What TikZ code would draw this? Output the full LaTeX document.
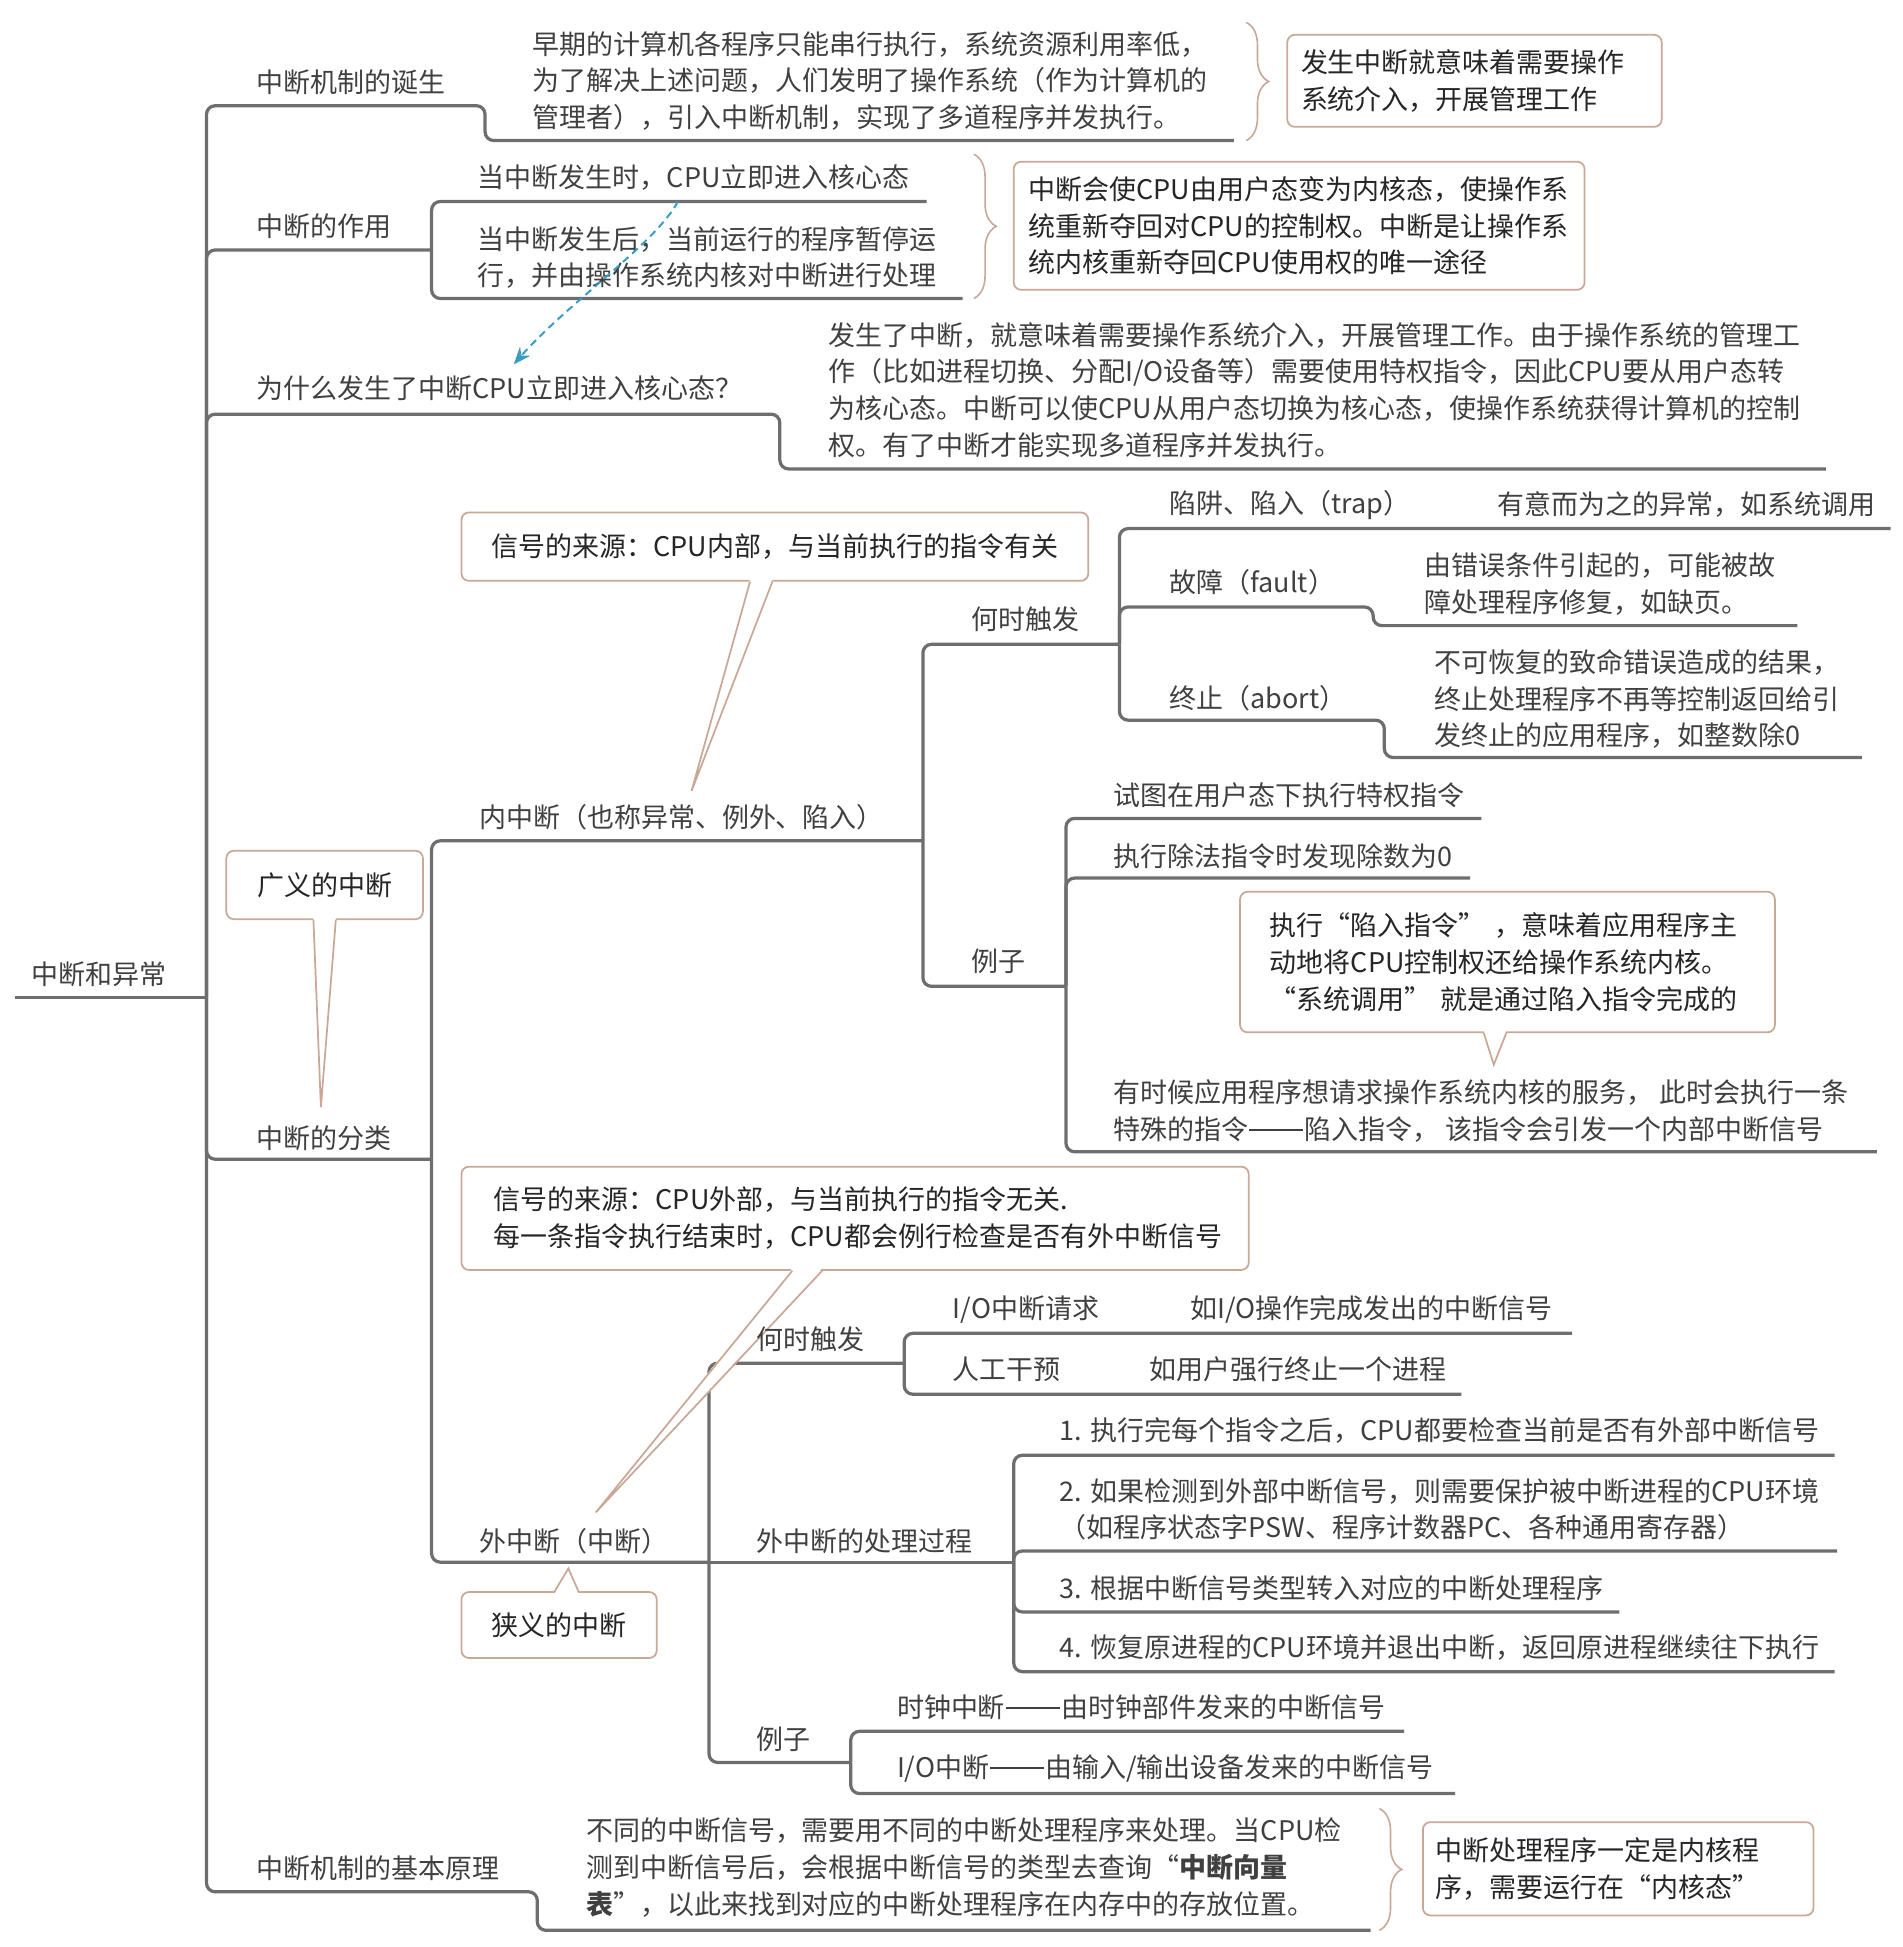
\documentclass[tikz,border=0pt]{standalone}
\usepackage{fontspec}
\setmainfont{Noto Sans CJK SC}
\usetikzlibrary{calc,decorations.pathreplacing,arrows.meta}
\definecolor{ln}{HTML}{6E6E6E}
\definecolor{txt}{HTML}{404040}
\definecolor{btxt}{HTML}{262626}
\definecolor{brn}{HTML}{C9A897}
\definecolor{arr}{HTML}{3A9CC2}
\newcommand\fs{\fontsize{21.7}{29.5}\selectfont}
\newcommand\dd{\hspace{0.04em}\rule[0.33em]{2em}{0.06em}\hspace{0.04em}}
\newcommand\callptr[5]{%
  \fill[white] ($(#1)+(#2,#5)$) -- (#4) -- ($(#1)+(#3,#5)$) -- cycle;
  \draw[cptr] ($(#1)+(#2,0)$) -- (#4) -- ($(#1)+(#3,0)$);}
\begin{document}
\begin{tikzpicture}[x=1pt,y=-1pt,
  t/.style={anchor=west,inner sep=0pt,text=txt,font=\fs,align=left},
  conn/.style={draw=ln,line width=2.6pt,rounded corners=7pt},
  cbox/.style={draw=brn,line width=1.4pt,fill=white,rounded corners=6pt,inner sep=0pt,font=\fs,text=btxt},
  cptr/.style={draw=brn,line width=1.4pt,line join=miter},
  brc/.style={draw=brn,line width=1.3pt,decorate,decoration={brace,amplitude=18pt}},
  darr/.style={draw=arr,line width=1.6pt,dash pattern=on 6pt off 4pt,-{Stealth[length=14pt,width=11pt]}}
]
\useasboundingbox (0,0) rectangle (1530,1565.4);
% ---------- junction coordinates ----------
\coordinate (r0) at (12,802);
\coordinate (r) at (166,802);
\coordinate (a1) at (390,85);  \coordinate (a1e) at (992,113);
\coordinate (a2) at (347,201);
\coordinate (a2x) at (745,162); \coordinate (a2y) at (774,240);
\coordinate (a3) at (627,333); \coordinate (a3e) at (1468,377);
\coordinate (a4) at (347,932);
\coordinate (b1) at (742,676);
\coordinate (b11) at (900,518);
\coordinate (b111) at (1520,425);
\coordinate (b112) at (1104,488); \coordinate (b112e) at (1445,503);
\coordinate (b113) at (1113,579); \coordinate (b113e) at (1497,609);
\coordinate (b12) at (857,793);
\coordinate (b121) at (1191,658);
\coordinate (b122) at (1182,706);
\coordinate (b123) at (1509,926);
\coordinate (b2) at (570,1256);
\coordinate (b21) at (727,1096);
\coordinate (b211) at (1264,1072);
\coordinate (b212) at (1175,1121);
\coordinate (b22) at (815,1256);
\coordinate (b221) at (1475,1170);
\coordinate (b222) at (1477,1247);
\coordinate (b223) at (1302,1296);
\coordinate (b224) at (1475,1344);
\coordinate (b23) at (684,1417);
\coordinate (b231) at (1129,1392);
\coordinate (b232) at (1170,1442);
\coordinate (a5) at (432,1521); \coordinate (a5e) at (1102,1552);
% ---------- connectors ----------
\draw[conn] (r0) -- (r);
\draw[conn] (r) |- (a1) |- (a1e);
\draw[conn] (r) |- (a2);
\draw[conn] (a2) |- (a2x);
\draw[conn] (a2) |- (a2y);
\draw[conn] (r) |- (a3) |- (a3e);
\draw[conn] (r) |- (a4);
\draw[conn] (a4) |- (b1);
\draw[conn] (b1) |- (b11);
\draw[conn] (b11) |- (b111);
\draw[conn] (b11) |- (b112) |- (b112e);
\draw[conn] (b11) |- (b113) |- (b113e);
\draw[conn] (b1) |- (b12);
\draw[conn] (b12) |- (b121);
\draw[conn] (b12) |- (b122);
\draw[conn] (b12) |- (b123);
\draw[conn] (a4) |- (b2);
\draw[conn] (b2) |- (b21);
\draw[conn] (b21) |- (b211);
\draw[conn] (b21) |- (b212);
\draw[conn] (b2) -- (b22);
\draw[conn] (b22) |- (b221);
\draw[conn] (b22) |- (b222);
\draw[conn] (b22) |- (b223);
\draw[conn] (b22) |- (b224);
\draw[conn] (b2) |- (b23);
\draw[conn] (b23) |- (b231);
\draw[conn] (b23) |- (b232);
\draw[conn] (r) |- (a5) |- (a5e);
% ---------- callouts ----------
\node[cbox,minimum width=504pt,minimum height=55pt] (c1) at (623,439.5) {信号的来源：CPU内部，与当前执行的指令有关};
\coordinate (t1) at (556,636);
\callptr{c1.south}{-20}{-2}{t1}{-2}
\node[cbox,minimum width=158pt,minimum height=55pt] (c2) at (261,711.5) {广义的中断};
\coordinate (t2) at (258,890);
\callptr{c2.south}{-9}{9}{t2}{-2}
\node[cbox,minimum width=430pt,minimum height=113pt,text width=382pt,align=left] (c3) at (1212,773.5) {执行“陷入指令”~，意味着应用程序主\\动地将CPU控制权还给操作系统内核。\\“系统调用”~就是通过陷入指令完成的};
\coordinate (t3) at (1201,856);
\callptr{c3.south}{-19}{-1}{t3}{-2}
\node[cbox,minimum width=633pt,minimum height=83pt,text width=581pt,align=left] (c4) at (687.5,979.5) {信号的来源：CPU外部，与当前执行的指令无关.\\每一条指令执行结束时，CPU都会例行检查是否有外中断信号};
\coordinate (t4) at (479,1216);
\callptr{c4.south}{-50.5}{-26.5}{t4}{-2}
\node[cbox,minimum width=157pt,minimum height=53pt] (c5) at (449.5,1306.5) {狭义的中断};
\coordinate (t5) at (457,1261);
\callptr{c5.north}{-3.5}{15.5}{t5}{2}
% ---------- topic texts ----------
\node[t] (root) at (25,783) {中断和异常};
\node[t] (n1) at (206,66) {中断机制的诞生};
\node[t] (n1d) at (428,65) {早期的计算机各程序只能串行执行，系统资源利用率低，\\为了解决上述问题，人们发明了操作系统（作为计算机的\\管理者），引入中断机制，实现了多道程序并发执行。};
\node[t] (n2) at (206,182) {中断的作用};
\node[t] (n2a) at (384,143) {当中断发生时，CPU立即进入核心态};
\node[t] (n2b) at (384,207) {当中断发生后，当前运行的程序暂停运\\行，并由操作系统内核对中断进行处理};
\node[t] (n3) at (206,312) {为什么发生了中断CPU立即进入核心态？};
\node[t] (n3d) at (666,313.5) {发生了中断，就意味着需要操作系统介入，开展管理工作。由于操作系统的管理工\\作（比如进程切换、分配I/O设备等）需要使用特权指令，因此CPU要从用户态转\\为核心态。中断可以使CPU从用户态切换为核心态，使操作系统获得计算机的控制\\权。有了中断才能实现多道程序并发执行。};
\node[t] (n4) at (206,915) {中断的分类};
\node[t] (n41) at (385,657) {内中断（也称异常、例外、陷入）};
\node[t] (n411) at (781,498) {何时触发};
\node[t] (n4111) at (940,406) {陷阱、陷入（trap）};
\node[t] (n4111d) at (1204,406) {有意而为之的异常，如系统调用};
\node[t] (n4112) at (940,468) {故障（fault）};
\node[t] (n4112d) at (1145,469.5) {由错误条件引起的，可能被故\\障处理程序修复，如缺页。};
\node[t] (n4113) at (940,561) {终止（abort）};
\node[t] (n4113d) at (1153,562) {不可恢复的致命错误造成的结果，\\终止处理程序不再等控制返回给引\\发终止的应用程序，如整数除0};
\node[t] (n412) at (781,773) {例子};
\node[t] (n4121) at (895,639) {试图在用户态下执行特权指令};
\node[t] (n4122) at (895,688) {执行除法指令时发现除数为0};
\node[t] (n4123) at (895,893.5) {有时候应用程序想请求操作系统内核的服务，~此时会执行一条\\特殊的指令\dd 陷入指令，~该指令会引发一个内部中断信号};
\node[t] (n42) at (385,1239) {外中断（中断）};
\node[t] (n421) at (608,1077) {何时触发};
\node[t] (n4211) at (766,1053) {I/O中断请求};
\node[t] (n4211d) at (957,1053) {如I/O操作完成发出的中断信号};
\node[t] (n4212) at (766,1101) {人工干预};
\node[t] (n4212d) at (924,1101) {如用户强行终止一个进程};
\node[t] (n422) at (608,1239) {外中断的处理过程};
\node[t] (n4221) at (852,1150) {1. 执行完每个指令之后，CPU都要检查当前是否有外部中断信号};
\node[t] (n4222) at (852,1213.5) {2. 如果检测到外部中断信号，则需要保护被中断进程的CPU环境\\（如程序状态字PSW、程序计数器PC、各种通用寄存器）};
\node[t] (n4223) at (852,1277) {3. 根据中断信号类型转入对应的中断处理程序};
\node[t] (n4224) at (852,1325) {4. 恢复原进程的CPU环境并退出中断，返回原进程继续往下执行};
\node[t] (n423) at (608,1398) {例子};
\node[t] (n4231) at (721,1373) {时钟中断\dd 由时钟部件发来的中断信号};
\node[t] (n4232) at (721,1422) {I/O中断\dd 由输入/输出设备发来的中断信号};
\node[t] (n5) at (206,1502) {中断机制的基本原理};
\node[t] (n5d) at (471,1501.5) {不同的中断信号，需要用不同的中断处理程序来处理。当CPU检\\测到中断信号后，会根据中断信号的类型去查询“\textbf{中断向量}\\\textbf{表}”，以此来找到对应的中断处理程序在内存中的存放位置。};
% ---------- summary boxes with braces ----------
\node[cbox,minimum width=301pt,minimum height=74pt,text width=279pt,align=left] (s1) at (1185.5,65) {发生中断就意味着需要操作\\系统介入，开展管理工作};
\coordinate (br1a) at (1002,18); \coordinate (br1b) at (1002,113);
\draw[brc] (br1a) -- (br1b);
\node[cbox,minimum width=459pt,minimum height=103pt,text width=435pt,align=left] (s2) at (1044.5,181.5) {中断会使CPU由用户态变为内核态，使操作系\\统重新夺回对CPU的控制权。中断是让操作系\\统内核重新夺回CPU使用权的唯一途径};
\coordinate (br2a) at (783,124); \coordinate (br2b) at (783,240);
\draw[brc] (br2a) -- (br2b);
\node[cbox,minimum width=314pt,minimum height=75pt,text width=294pt,align=left] (s3) at (1301,1502.5) {中断处理程序一定是内核程\\序，需要运行在“内核态”};
\coordinate (br3a) at (1109,1454); \coordinate (br3b) at (1109,1552);
\draw[brc] (br3a) -- (br3b);
% ---------- dashed arrow ----------
\coordinate (arS) at (545,162);
\coordinate (arE) at (413,293);
\draw[darr] (arS) .. controls (528,195) and (455,245) .. (arE);
\end{tikzpicture}
\end{document}
